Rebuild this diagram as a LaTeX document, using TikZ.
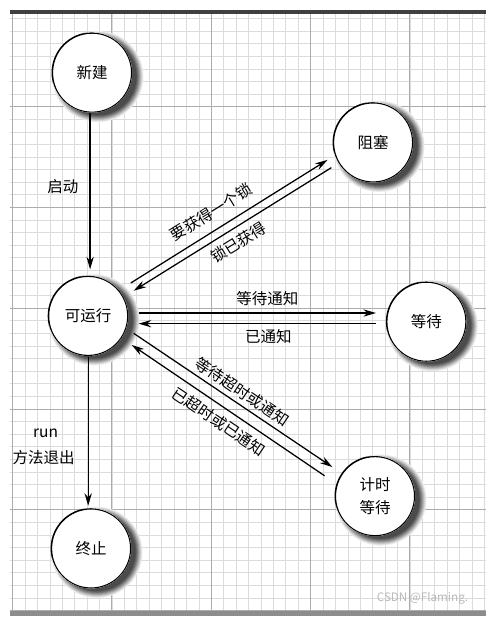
\documentclass[tikz,border=0pt]{standalone}
\usepackage{fontspec}
\setmainfont{Noto Sans CJK SC}
\usetikzlibrary{arrows.meta,calc}
\definecolor{sh1}{RGB}{235,235,235}
\definecolor{sh2}{RGB}{215,215,215}
\definecolor{sh3}{RGB}{190,190,190}
\definecolor{sh4}{RGB}{165,165,165}
\definecolor{sh5}{RGB}{140,140,140}
\definecolor{sh6}{RGB}{115,115,115}
\definecolor{sh7}{RGB}{95,95,95}
\definecolor{sh8}{RGB}{75,75,75}
\newcommand\halo[2]{%
  \begin{scope}[even odd rule]
    \clip (-10,-10) rectangle (502,636) ({#1},{#2}) circle[radius=41.6];
    \fill[sh1] ({#1+6},{#2+4}) circle[radius=47];
    \fill[sh2] ({#1+6},{#2+4}) circle[radius=46];
    \fill[sh3] ({#1+6},{#2+4}) circle[radius=45];
    \fill[sh4] ({#1+6},{#2+4}) circle[radius=44];
    \fill[sh5] ({#1+6},{#2+4}) circle[radius=43];
    \fill[sh6] ({#1+6},{#2+4}) circle[radius=42];
    \fill[sh7] ({#1+6},{#2+4}) circle[radius=41];
    \fill[sh8] ({#1+6},{#2+4}) circle[radius=40];
  \end{scope}
}
\begin{document}
\begin{tikzpicture}[x=1pt,y=-1pt,
  state/.style={circle, draw=black, line width=1.6pt, fill=white, minimum size=82pt,
    inner sep=0pt, align=center, font=\fontsize{16}{24}\selectfont},
  conn/.style={line width=1.3pt, -{Stealth[length=13pt,width=7.5pt]}},
  lbl/.style={inner sep=0pt, font=\fontsize{16}{18}\selectfont},
  minorline/.style={gray!28, line width=0.6pt},
  majorline/.style={gray!65, line width=0.9pt}]

% background, grid
\fill[white] (0,0) rectangle (492,626);
\foreach \i in {0,...,38} \draw[minorline] ({3+12.8125*\i},0) -- ({3+12.8125*\i},626);
\foreach \i in {1,...,48} \draw[minorline] (0,{-4+13*\i}) -- (492,{-4+13*\i});
\foreach \i in {0,...,4} \draw[majorline] ({3+102.5*\i},0) -- ({3+102.5*\i},626);
\foreach \i in {1,...,6} \draw[majorline] (0,{-4+104*\i}) -- (492,{-4+104*\i});
\fill[black!75] (0,0) rectangle (492,4);
\fill[black!45] (0,621) rectangle (492,626);

% states
\node[state] (new)   at (85,65)   {新建};
\node[state] (blk)   at (375,137) {阻塞};
\node[state] (run)   at (81,316)  {可运行};
\node[state] (wait)  at (430,322) {等待};
\node[state] (term)  at (84,556)  {终止};
\node[state] (timed) at (377,502) {计时\\等待};

% halos outside the states
\halo{85}{65}
\halo{375}{137}
\halo{81}{316}
\halo{430}{322}
\halo{84}{556}
\halo{377}{502}

% vertical connectors
\draw[conn] ($(new.center)+(-2,42)$) -- ($(run.center)+(2,-48)$);
\draw[conn] ($(run.center)+(0,42)$) -- ($(term.center)+(-3,-44)$);

% run <-> blocked
\draw[conn] ($(run.center)+(44,-34)$) -- ($(blk.center)+(-47,18)$);
\draw[conn] ($(blk.center)+(-43,26)$) -- ($(run.center)+(47,-26)$);

% run <-> waiting
\draw[conn] ($(run.center)+(52,-3)$) -- ($(wait.center)+(-52,-9)$);
\draw[conn] ($(wait.center)+(-52,2)$) -- ($(run.center)+(52,8)$);

% run <-> timed waiting
\draw[conn] ($(run.center)+(47,18)$) -- ($(timed.center)+(-44,-30)$);
\draw[conn] ($(timed.center)+(-52,-21)$) -- ($(run.center)+(45,30)$);

% labels
\node[lbl] (lstart) at (55,183) {启动};
\node[lbl] (lrun) at (37,437) {run};
\node[lbl] (lexit) at (35,462) {方法退出};
\node[lbl, rotate=32] (lreq) at (208,209) {要获得一个锁};
\node[lbl, rotate=32] (lgot) at (236,240) {锁已获得};
\node[lbl] (lwait) at (266,298) {等待通知};
\node[lbl] (lnot) at (267,337) {已通知};
\node[lbl, rotate=-34] (ltwait) at (240,394) {等待超时或通知};
\node[lbl, rotate=-34] (ltnot) at (216,425) {已超时或已通知};

\node[inner sep=0pt, text=gray!55, font=\fontsize{12}{14}\selectfont] (wm) at (426,607) {CSDN @Flaming.};

\useasboundingbox (0,0) rectangle (492,626);
\end{tikzpicture}
\end{document}
